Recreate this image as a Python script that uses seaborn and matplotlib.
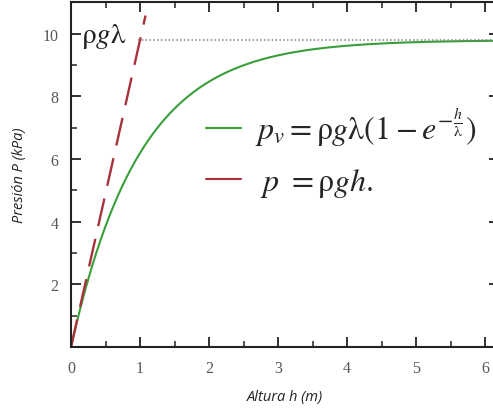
import numpy as np
import pandas as pd
import matplotlib
matplotlib.use("Agg")
import matplotlib.pyplot as plt
from matplotlib.lines import Line2D
import seaborn as sns

# Physical parameters (kPa per metre and decay length in metres)
rho_g = 9.8
lam = 1.0

# Heights along the x axis
h = np.linspace(0.0, 6.2, 400)
h_lin = np.array([0.0, 1.08])

p_v = rho_g * lam * (1.0 - np.exp(-h / lam))
p_lin = rho_g * h_lin

x_ticks = [0, 1, 2, 3, 4, 5, 6]
y_ticks = [2, 4, 6, 8, 10]
x_tick_labels = ["0", "1", "2", "3", "4", "5", "6"]
y_tick_labels = ["2", "4", "6", "8", "10"]

green = "#3a9e3a"
red = "#a8323c"

sns.set_theme(style="ticks")
plt.rcParams["mathtext.fontset"] = "stix"
plt.rcParams["font.family"] = ["DejaVu Sans"]

fig = plt.figure(figsize=(4.93, 4.10), dpi=100)
ax = fig.add_axes([0.144, 0.151, 0.868, 0.842])

df_v = pd.DataFrame({"h": h, "p": p_v})
df_l = pd.DataFrame({"h": h_lin, "p": p_lin})

sns.lineplot(data=df_v, x="h", y="p", ax=ax, color=green, linewidth=1.5)
sns.lineplot(data=df_l, x="h", y="p", ax=ax, color=red, linewidth=1.7,
             dashes=False)
ax.lines[-1].set_dashes([12, 5.5])

# Asymptote rho*g*lambda
ax.plot([0.97, 6.2], [rho_g * lam, rho_g * lam], linestyle=(0, (1, 1.5)),
        color="#808080", linewidth=1.1)
ax.text(0.15, 9.95, r"$\mathrm{\rho} g\mathrm{\lambda}$", fontsize=21,
        ha="left", va="center", color="#222222")

ax.set_xlim(0, 6.2)
ax.set_ylim(0, 11.02)
ax.set_xticks(x_ticks)
ax.set_xticklabels(x_tick_labels)
ax.set_yticks(y_ticks)
ax.set_yticklabels(y_tick_labels)
ax.set_xticks(np.arange(0.5, 6.2, 1.0), minor=True)
ax.set_yticks(np.arange(1, 11.0, 2.0), minor=True)

for lbl in ax.get_xticklabels() + ax.get_yticklabels():
    lbl.set_family("Liberation Serif")
    lbl.set_fontsize(11.5)
    lbl.set_color("#555555")

ax.tick_params(which="major", direction="in", length=7, width=1.3,
               top=True, right=True, color="#222222", pad=9)
ax.tick_params(which="minor", direction="in", length=4, width=1.1,
               top=True, right=True, color="#222222")
for s in ax.spines.values():
    s.set_linewidth(1.5)
    s.set_color("#222222")

ax.set_xlabel("Altura h (m)", family="Open Sans", style="italic",
              fontsize=10.5, color="#222222", labelpad=10)
ax.set_ylabel("Presión P (kPa)", family="Open Sans", style="italic",
              fontsize=10.5, color="#222222", labelpad=11)

handles = [Line2D([0], [0], color=green, linewidth=1.5),
           Line2D([0], [0], color=red, linewidth=1.5)]
labels = [r"$p_v = \mathrm{\rho} g\mathrm{\lambda}(1 - e^{-\frac{h}{\mathrm{\lambda}}})$",
          r"$\ p\ = \mathrm{\rho} g h.$"]
fig.legend(handles, labels, loc="upper left",
           bbox_to_anchor=(177 / 493, 1 - 78 / 410),
           bbox_transform=fig.transFigure, frameon=False, fontsize=23,
           handlelength=1.1, handletextpad=0.45, labelspacing=0.55)

fig.savefig("out.png", dpi=100)
